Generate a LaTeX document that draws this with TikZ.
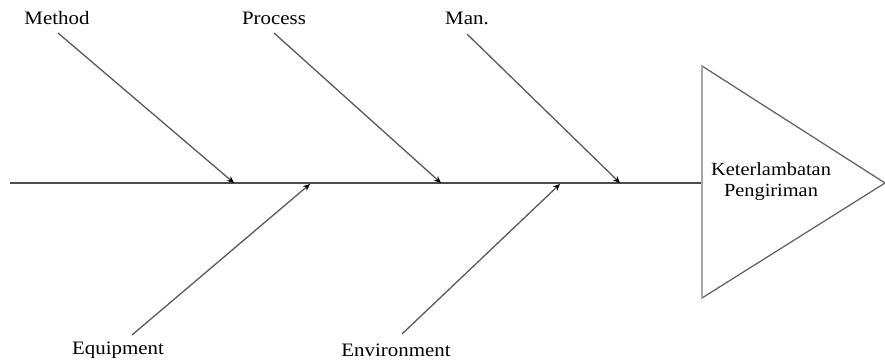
\documentclass[tikz,border=0pt]{standalone}
\usepackage{fontspec}
\setmainfont{Liberation Serif}[FakeStretch=1.1]
\usetikzlibrary{arrows.meta}

\newcommand*{\spiney}{183}

\begin{document}
\begin{tikzpicture}
[
	x=1pt, y=-1pt,
	cause/.style={font=\fontsize{19}{20}\selectfont, inner sep=0pt},
	bone/.style={draw=black!65, line width=1.3pt, -{Stealth[length=7pt,width=6pt,black]}},
]
	\useasboundingbox (0,0) rectangle (885,362);

	% spine
	\coordinate (tail) at (10,\spiney);
	\coordinate (head) at (702,\spiney);
	\draw[black!70, line width=1.5pt] (tail) -- (head);

	% head
	\draw[black!60, line width=1.3pt] (702,66) -- (885,\spiney) -- (702,298);
	\draw[black!35, line width=2.4pt] (702,65) -- (702,299);
	\node[font=\fontsize{18.5}{21}\selectfont, align=center] (effect) at (771,182) {Keterlambatan\\Pengiriman};

	% causes on top
	\node[cause] (method) at (57,18) {Method};
	\node[cause] (process) at (274,18) {Process};
	\node[cause] (man) at (467,18) {Man.};
	\coordinate (method-s) at (58,33);
	\coordinate (process-s) at (274,33);
	\coordinate (man-s) at (467,34);
	\coordinate (method-e) at (234,\spiney);
	\coordinate (process-e) at (441,\spiney);
	\coordinate (man-e) at (620,\spiney);
	\draw[bone] (method-s) -- (method-e);
	\draw[bone] (process-s) -- (process-e);
	\draw[bone] (man-s) -- (man-e);

	% causes below
	\node[cause] (equip) at (118,350) {Equipment};
	\node[cause] (envir) at (396,350) {Environment};
	\coordinate (equip-s) at (132,335);
	\coordinate (envir-s) at (402,334);
	\coordinate (equip-e) at (310,184);
	\coordinate (envir-e) at (560,184);
	\draw[bone] (equip-s) -- (equip-e);
	\draw[bone] (envir-s) -- (envir-e);

\end{tikzpicture}
\end{document}
